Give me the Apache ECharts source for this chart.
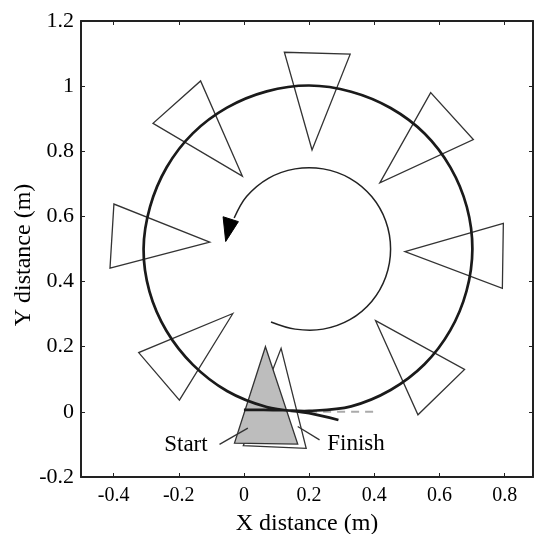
<!DOCTYPE html>
<html>
<head>
<meta charset="utf-8">
<script src="https://cdn.jsdelivr.net/npm/echarts@6/dist/echarts.min.js"></script>
<style>
  html, body { margin: 0; padding: 0; background: #fff; }
  #chart { width: 534px; height: 534px; }
</style>
</head>
<body>
<div id="chart"></div>
<script>
// tick values on the x axis (axis starts at -0.5, so ticks are listed)
var xTicks = [-0.4, -0.2, 0, 0.2, 0.4, 0.6, 0.8];

// measured robot path (m)
var pathX = [0, 0.06, 0.12, 0.2, 0.329, 0.45, 0.554, 0.633, 0.683, 0.701, 0.684, 0.634, 0.555, 0.45, 0.329, 0.2,
             0.07, -0.052, -0.157, -0.237, -0.288, -0.308, -0.29, -0.238, -0.157, -0.052, 0.07, 0.2, 0.29];
var pathY = [0.006, 0.006, 0.005, 0.003, 0.017, 0.067, 0.146, 0.25, 0.371, 0.5, 0.629, 0.75, 0.854, 0.933, 0.983, 1.002,
             0.984, 0.934, 0.855, 0.751, 0.63, 0.5, 0.37, 0.249, 0.145, 0.064, 0.015, -0.004, -0.025];

// reference (dashed grey) segment
var refX = [0.2, 0.4];
var refY = [0, 0];

// direction arrow inside the circle
var arcX = [0.083, 0.157, 0.243, 0.325, 0.392, 0.435, 0.45, 0.435, 0.392, 0.325, 0.243, 0.157, 0.075, 0.008, -0.03];
var arcY = [0.276, 0.254, 0.254, 0.283, 0.339, 0.414, 0.5, 0.586, 0.661, 0.717, 0.746, 0.746, 0.717, 0.661, 0.595];
var arrowHead = [-0.064, 0.599, -0.017, 0.584, -0.056, 0.523];

// camera poses: apex x,y, base x,y, base x,y
var poses = [
  [0.209, 0.804, 0.124, 1.104, 0.326, 1.098],
  [-0.005, 0.724, -0.133, 1.016, -0.279, 0.886],
  [-0.105, 0.521, -0.399, 0.638, -0.411, 0.441],
  [-0.034, 0.302, -0.323, 0.182, -0.198, 0.036],
  [0.417, 0.703, 0.573, 0.980, 0.704, 0.836],
  [0.494, 0.492, 0.796, 0.579, 0.793, 0.379],
  [0.404, 0.280, 0.677, 0.130, 0.534, -0.009]
];
var finishPose = [0.114, 0.195, 0.191, -0.112, -0.002, -0.104];
var startPose = [0.066, 0.200, 0.165, -0.099, -0.029, -0.096];

// annotations
var noteNames = ['Start', 'Finish'];
var noteX = [-0.178, 0.344];
var noteY = [-0.102, -0.1];
var startLeaderX = [-0.075, 0.012];
var startLeaderY = [-0.1, -0.05];
var finishLeaderX = [0.165, 0.232];
var finishLeaderY = [-0.045, -0.086];

function pairs(xs, ys) {
  return xs.map(function (x, i) { return [x, ys[i]]; });
}

function triangleItem(fill, stroke, width) {
  return function (params, api) {
    var p = [];
    for (var k = 0; k < 3; k++) {
      p.push(api.coord([api.value(k * 2), api.value(k * 2 + 1)]));
    }
    return {
      type: 'polygon',
      shape: { points: p },
      style: { fill: fill, stroke: stroke, lineWidth: width }
    };
  };
}

// one smooth curve through all the points of a series
function curveItem(xs, ys, color, width) {
  return function (params, api) {
    if (params.dataIndex !== 0) return null;
    var p = xs.map(function (x, i) { return api.coord([x, ys[i]]); });
    return {
      type: 'polyline',
      shape: { points: p, smooth: 0.35 },
      style: { fill: null, stroke: color, lineWidth: width }
    };
  };
}

var font = 'Liberation Serif';
var axisLine = { onZero: false, lineStyle: { color: '#222', width: 2 } };
var chart = echarts.init(document.getElementById('chart'));

var option = {
  backgroundColor: '#fff',
  animation: false,
  grid: { left: 81, top: 21, width: 452, height: 456, containLabel: false, outerBoundsMode: 'none' },
  xAxis: [{
    type: 'value', min: -0.5, max: 0.887,
    name: 'X distance (m)', nameLocation: 'middle', nameGap: 35,
    nameTextStyle: { fontFamily: font, fontSize: 24, color: '#000' },
    axisLine: axisLine,
    axisTick: { inside: true, length: 4, customValues: xTicks, lineStyle: { color: '#222' } },
    axisLabel: { customValues: xTicks, margin: 9, fontFamily: font, fontSize: 20, color: '#000' },
    splitLine: { show: false }
  }, {
    type: 'value', min: -0.5, max: 0.887, position: 'top',
    axisLine: axisLine,
    axisTick: { inside: true, length: 4, customValues: xTicks, lineStyle: { color: '#222' } },
    axisLabel: { show: false },
    splitLine: { show: false }
  }],
  yAxis: [{
    type: 'value', min: -0.2, max: 1.2, interval: 0.2,
    name: 'Y distance (m)', nameLocation: 'middle', nameGap: 45, nameMoveOverlap: false,
    nameTextStyle: { fontFamily: font, fontSize: 24, color: '#000', padding: [0, 12, 0, 0] },
    axisLine: axisLine,
    axisTick: { inside: true, length: 4, lineStyle: { color: '#222' } },
    axisLabel: { margin: 7, fontFamily: font, fontSize: 22, color: '#000' },
    splitLine: { show: false }
  }, {
    type: 'value', min: -0.2, max: 1.2, interval: 0.2, position: 'right',
    axisLine: axisLine,
    axisTick: { inside: true, length: 4, lineStyle: { color: '#222' } },
    axisLabel: { show: false },
    splitLine: { show: false }
  }],
  series: [
    {
      type: 'custom', renderItem: triangleItem('#fff', '#333', 1.3), data: poses,
      encode: { x: [0, 2, 4], y: [1, 3, 5] }, z: 2
    },
    {
      type: 'custom', renderItem: triangleItem('#fff', '#333', 1.3), data: [finishPose],
      encode: { x: [0, 2, 4], y: [1, 3, 5] }, z: 2
    },
    {
      type: 'custom', renderItem: triangleItem('#bdbdbd', '#333', 1.3), data: [startPose],
      encode: { x: [0, 2, 4], y: [1, 3, 5] }, z: 3
    },
    {
      type: 'line', data: pairs(refX, refY), showSymbol: false, z: 4,
      lineStyle: { color: '#aaa', width: 2, type: [8, 6] }
    },
    {
      type: 'custom', renderItem: curveItem(pathX, pathY, '#1a1a1a', 2.7),
      data: pairs(pathX, pathY), z: 5
    },
    {
      type: 'custom', renderItem: curveItem(arcX, arcY, '#222', 1.5),
      data: pairs(arcX, arcY), z: 5
    },
    {
      type: 'custom', renderItem: triangleItem('#000', '#000', 1), data: [arrowHead],
      encode: { x: [0, 2, 4], y: [1, 3, 5] }, z: 6
    },
    {
      type: 'line', data: pairs(startLeaderX, startLeaderY), showSymbol: false, z: 6,
      lineStyle: { color: '#333', width: 1.3 }
    },
    {
      type: 'line', data: pairs(finishLeaderX, finishLeaderY), showSymbol: false, z: 6,
      lineStyle: { color: '#333', width: 1.3 }
    },
    {
      type: 'custom', z: 7,
      data: noteNames.map(function (n, i) { return [noteX[i], noteY[i]]; }),
      renderItem: function (params, api) {
        var p = api.coord([api.value(0), api.value(1)]);
        return {
          type: 'text', x: p[0], y: p[1],
          style: {
            text: noteNames[params.dataIndex], align: 'center', verticalAlign: 'middle',
            fontFamily: font, fontSize: 23, fill: '#000'
          }
        };
      }
    }
  ]
};

chart.setOption(option);
</script>
</body>
</html>
